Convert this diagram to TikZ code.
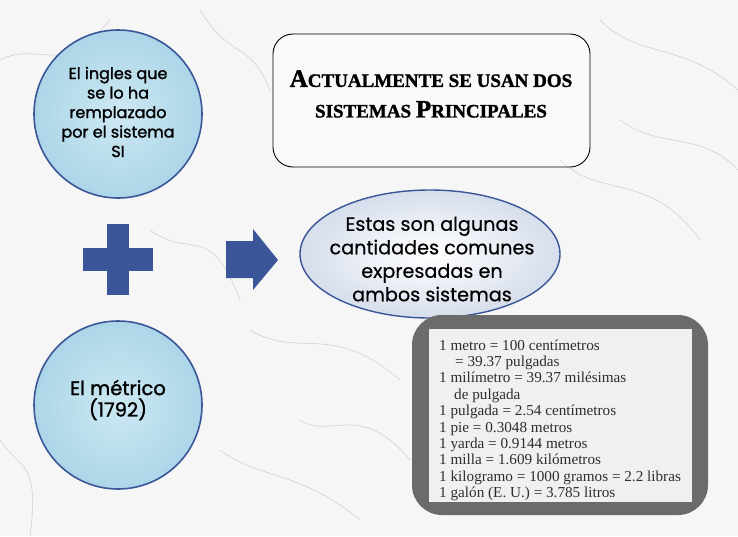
\documentclass[tikz,border=0pt]{standalone}
\usepackage{fontspec}
\setmainfont{Liberation Serif}
\newfontfamily\pop[FakeBold=1.4]{Poppins}
\newfontfamily\popr[FakeBold=0.5]{Poppins}
\newfontfamily\titlefont[FakeBold=1.5]{Liberation Serif}
\usetikzlibrary{shapes.geometric}
\definecolor{myblue}{RGB}{59,86,152}
\definecolor{circfill}{RGB}{172,214,232}
\definecolor{circin}{RGB}{205,232,243}
\definecolor{ellfill}{RGB}{214,222,236}
\definecolor{darkbox}{RGB}{107,107,107}
\definecolor{tabfill}{RGB}{240,240,240}
\definecolor{tabtext}{RGB}{45,45,50}
\definecolor{bg}{RGB}{246,246,246}
\tikzset{
  bubble/.style={circle, draw=myblue, line width=1.6pt, inner color=circin, outer color=circfill, minimum size=168pt, inner sep=0pt},
  bubtext/.style={align=center, text=black, font=\pop\fontsize{16}{19.5}\selectfont},
  shapefill/.style={fill=myblue, draw=none},
  titlebox/.style={draw=black, line width=0.9pt, rounded corners=20pt, fill=white, fill opacity=0.35, text opacity=1},
  oval/.style={ellipse, draw=myblue, line width=1.4pt, inner color=white, outer color=ellfill, minimum width=260pt, minimum height=128pt, inner sep=0pt},
  tabline/.style={anchor=base west, inner sep=0pt, text=tabtext, font=\fontsize{15.2}{16}\selectfont}
}
\newcommand{\fsc}[2]{{\fontsize{25}{28}\selectfont #1}{\fontsize{19}{28}\selectfont #2}}
\begin{document}
\begin{tikzpicture}[x=1pt,y=-1pt]
\useasboundingbox (0,0) rectangle (738,536);
\fill[bg] (0,0) rectangle (738,536);
% faint marble veins
\begin{scope}[draw=black!18, line width=0.6pt]
\draw (0,60) .. controls (40,40) and (60,80) .. (110,20);
\draw (200,10) .. controls (230,60) and (250,40) .. (270,90);
\draw (600,20) .. controls (640,60) and (680,40) .. (738,90);
\draw (150,230) .. controls (190,260) and (210,220) .. (240,300);
\draw (250,330) .. controls (300,360) and (330,320) .. (400,380);
\draw (560,160) .. controls (600,200) and (650,170) .. (700,240);
\draw (0,440) .. controls (20,470) and (40,460) .. (30,536);
\draw (220,450) .. controls (260,480) and (300,470) .. (360,520);
\draw (620,120) .. controls (660,150) and (700,130) .. (738,170);
\draw (300,420) .. controls (330,440) and (360,400) .. (410,460);
\end{scope}
% circles
\node[bubble] (c1) at (118,114) {};
\node[bubtext] (t1) at (118,112) {El ingles que\\se lo ha\\remplazado\\por el sistema\\SI};
\node[bubble] (c2) at (118,405) {};
\node[bubtext, font=\pop\fontsize{19.5}{21.5}\selectfont] (t2) at (118,400) {El métrico\\(1792)};
% plus sign
\fill[shapefill] (83,248) rectangle (153,271);
\fill[shapefill] (107,224) rectangle (129,295);
\coordinate (plus) at (118,259);
% arrow
\fill[shapefill] (226,241) -- (253,241) -- (253,229) -- (278,260) -- (253,290) -- (253,278) -- (226,278) -- cycle;
% title box
\draw[titlebox] (273,34) rectangle (590,167);
\node[align=center, font=\titlefont\bfseries] (title) at (431,94)
  {\fsc{A}{CTUALMENTE SE USAN DOS}\\[13pt]\fsc{}{SISTEMAS }\fsc{P}{RINCIPALES}};
% ellipse
\node[oval] (ell) at (430,254) {};
\node[align=center, font=\popr\fontsize{19.2}{23.5}\selectfont] (et) at (432,259) {Estas son algunas\\cantidades comunes\\expresadas en\\ambos sistemas};
% table box
\fill[darkbox, rounded corners=30pt] (412,315) rectangle (708,515);
\fill[tabfill] (429,329) rectangle (692,502);
\node[tabline] (l1) at (439,350) {1 metro = 100 centímetros};
\node[tabline] (l2) at (455,366.4) {= 39.37 pulgadas};
\node[tabline] (l3) at (439,382.8) {1 milímetro = 39.37 milésimas};
\node[tabline] (l4) at (454,399.2) {de pulgada};
\node[tabline] (l5) at (439,415.6) {1 pulgada = 2.54 centímetros};
\node[tabline] (l6) at (439,432) {1 pie = 0.3048 metros};
\node[tabline] (l7) at (439,448.4) {1 yarda = 0.9144 metros};
\node[tabline] (l8) at (439,464.8) {1 milla = 1.609 kilómetros};
\node[tabline] (l9) at (439,481.2) {1 kilogramo = 1000 gramos = 2.2 libras};
\node[tabline] (l10) at (439,497.6) {1 galón (E. U.) = 3.785 litros};
\end{tikzpicture}
\end{document}
